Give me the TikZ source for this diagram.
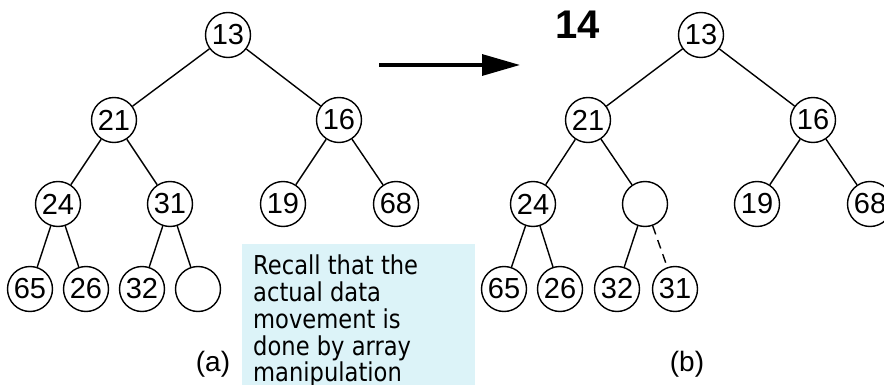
\documentclass[tikz,border=0pt]{standalone}
\usepackage{fontspec}
\setmainfont{Liberation Sans}
\newfontfamily\notefont[FakeStretch=0.87]{DejaVu Sans}
\usetikzlibrary{arrows.meta}
\definecolor{notebg}{RGB}{220,243,248}
\tikzset{
  heapnode/.style={circle, draw, line width=1.4pt, minimum size=45pt, inner sep=0pt,
    font=\fontsize{29}{29}\selectfont},
  edge/.style={line width=1.4pt},
  moved/.style={edge, dash pattern=on 9pt off 6pt},
  caption/.style={font=\fontsize{28}{28}\selectfont},
}
\begin{document}
\begin{tikzpicture}[x=1pt, y=-1pt]
\useasboundingbox (0,0) rectangle (884,385);
\clip (0,0) rectangle (884,385);

% ---- heap (a): hole at the next free slot
\node[heapnode] (a13) at (228,35)  {13};
\node[heapnode] (a21) at (114,120) {21};
\node[heapnode] (a16) at (339,120) {16};
\node[heapnode] (a24) at (58,204)  {24};
\node[heapnode] (a31) at (170,204) {31};
\node[heapnode] (a19) at (283,204) {19};
\node[heapnode] (a68) at (396,204) {68};
\node[heapnode] (a65) at (30,289)  {65};
\node[heapnode] (a26) at (86,289)  {26};
\node[heapnode] (a32) at (142,289) {32};
\node[heapnode] (ahole) at (198,289) {};
\draw[edge] (a13) -- (a21);
\draw[edge] (a13) -- (a16);
\draw[edge] (a21) -- (a24);
\draw[edge] (a21) -- (a31);
\draw[edge] (a16) -- (a19);
\draw[edge] (a16) -- (a68);
\draw[edge] (a24) -- (a65);
\draw[edge] (a24) -- (a26);
\draw[edge] (a31) -- (a32);
\draw[edge] (a31) -- (ahole);
\node[caption] (capa) at (213,364) {(a)};

% ---- percolate-up step
\coordinate (arrS) at (379,65);
\coordinate (arrE) at (520,65);
\draw[line width=3.3pt, -{Triangle[length=38pt,width=21pt]}] (arrS) -- (arrE);
\node[font=\fontsize{40}{40}\selectfont\bfseries] (ins) at (578,25) {14};

% ---- heap (b): hole moved up, 31 moved down
\node[heapnode] (b13) at (701,35)  {13};
\node[heapnode] (b21) at (588,120) {21};
\node[heapnode] (b16) at (813,120) {16};
\node[heapnode] (b24) at (533,204) {24};
\node[heapnode] (bhole) at (645,204) {};
\node[heapnode] (b19) at (757,204) {19};
\node[heapnode] (b68) at (870,204) {68};
\node[heapnode] (b65) at (504,289) {65};
\node[heapnode] (b26) at (560,289) {26};
\node[heapnode] (b32) at (617,289) {32};
\node[heapnode] (b31) at (675,289) {31};
\draw[edge] (b13) -- (b21);
\draw[edge] (b13) -- (b16);
\draw[edge] (b21) -- (b24);
\draw[edge] (b21) -- (bhole);
\draw[edge] (b16) -- (b19);
\draw[edge] (b16) -- (b68);
\draw[edge] (b24) -- (b65);
\draw[edge] (b24) -- (b26);
\draw[edge] (bhole) -- (b32);
\draw[moved] (bhole) -- (b31);
\node[caption] (capb) at (687,364) {(b)};

% ---- note
\fill[notebg] (242,244) rectangle (475,390);
\node[anchor=north west, inner sep=0pt, align=left,
      font=\notefont\fontsize{26}{26.7}\selectfont] (note) at (253,255)
  {Recall that the\\actual data\\movement is\\done by array\\manipulation};
\end{tikzpicture}
\end{document}
